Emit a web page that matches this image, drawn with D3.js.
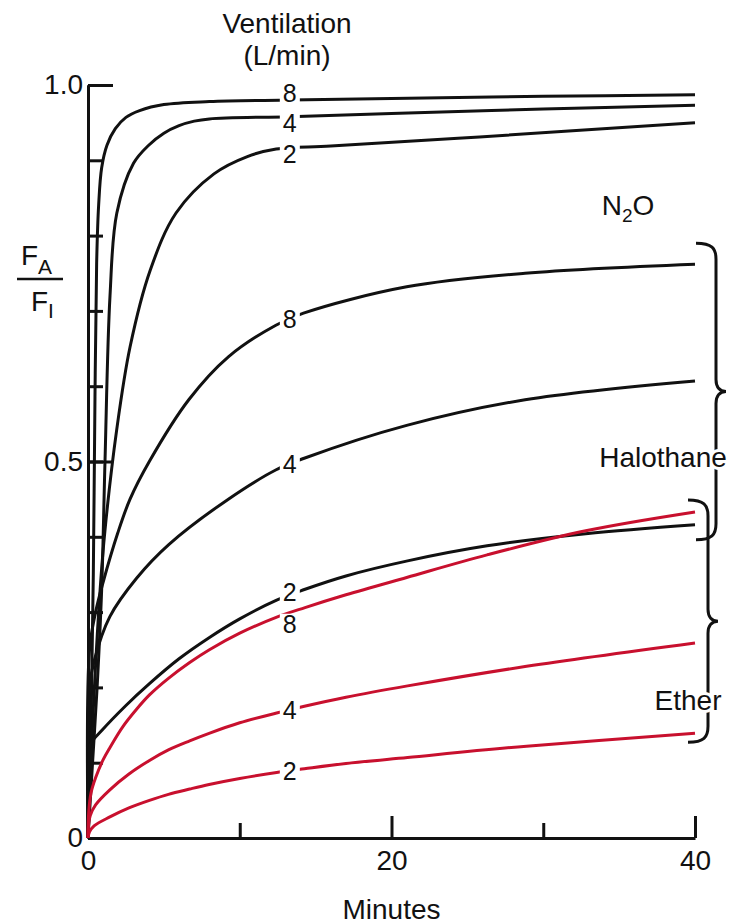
<!DOCTYPE html>
<html>
<head>
<meta charset="utf-8">
<script src="https://cdn.jsdelivr.net/npm/d3@7"></script>
<style>
  body { margin: 0; background: #fff; }
  svg text { font-family: "Liberation Sans", Arial, Helvetica, sans-serif; fill: #111; }
  .axis path, .axis line { stroke: #111; stroke-width: 3; }
  .axis text { font-size: 28px; }
</style>
</head>
<body>
<div id="vis"></div>
<script>
// alveolar / inspired concentration vs minutes, for three ventilations

var ventilations = [8, 4, 2];
var agents = ["N2O", "Halothane", "Ether"];

// [minutes, FA/FI]
var n2o8 = [[0,0],[0.2,0.15],[0.35,0.35],[0.46,0.586],[0.57,0.764],[0.7,0.84],[0.9,0.89],[1.25,0.92],[1.8,0.942],[2.5,0.957],[3.4,0.966],[5,0.974],[8,0.978],[13.3,0.98],[20,0.982],[30,0.985],[40,0.987]];
var n2o4 = [[0,0],[0.3,0.1],[0.6,0.2],[0.9,0.33],[1.12,0.5],[1.45,0.72],[1.9,0.83],[3,0.896],[4,0.92],[5,0.936],[6,0.946],[7,0.952],[8,0.955],[13.3,0.958],[20,0.962],[30,0.968],[40,0.973]];
var n2o2 = [[0,0],[0.3,0.15],[0.8,0.33],[1.12,0.409],[1.89,0.542],[2.77,0.652],[4.1,0.754],[5.8,0.83],[8.3,0.882],[10.5,0.905],[12.4,0.915],[16,0.919],[25.8,0.931],[40,0.95]];

var halo8 = [[0,0],[0.1,0.25],[0.5,0.3],[1,0.34],[1.96,0.405],[2.77,0.45],[4.04,0.5],[6.64,0.582],[9.25,0.639],[12.38,0.681],[14.2,0.697],[21,0.732],[28.8,0.75],[40,0.762]];
var halo4 = [[0,0],[0.1,0.2],[0.4,0.235],[1.44,0.294],[3.2,0.345],[5.34,0.39],[9.25,0.45],[12.4,0.489],[14.2,0.504],[21,0.548],[28.8,0.582],[40,0.607]];
var halo2 = [[0,0],[0.04,0.1],[0.15,0.124],[0.92,0.143],[2.5,0.176],[4.05,0.205],[6,0.238],[7.98,0.266],[10,0.291],[12.43,0.316],[14.26,0.33],[17,0.348],[21.06,0.368],[26.3,0.388],[32.8,0.404],[40,0.416]];

var ether8 = [[0,0],[0.05,0.035],[0.2,0.06],[0.5,0.08],[1,0.104],[1.44,0.12],[2.3,0.148],[3.2,0.171],[4.05,0.19],[5.3,0.212],[6.7,0.233],[8,0.25],[10,0.272],[12.4,0.293],[14.3,0.306],[17,0.323],[21,0.346],[26.3,0.376],[32.8,0.408],[40,0.433]];
var ether4 = [[0,0],[0.05,0.02],[0.15,0.03],[0.5,0.044],[1.44,0.064],[2.7,0.085],[4.05,0.103],[5.3,0.117],[6.7,0.129],[7.98,0.139],[10,0.153],[12.43,0.166],[14.26,0.175],[17,0.187],[21.06,0.202],[28.9,0.228],[40,0.259]];
var ether2 = [[0,0],[0.1,0.008],[0.4,0.016],[1.44,0.028],[2.7,0.04],[4.05,0.05],[5.3,0.058],[6.7,0.065],[7.98,0.071],[10,0.079],[12.43,0.087],[14.26,0.092],[17,0.099],[21.06,0.107],[28.9,0.122],[40,0.139]];

var curvesByAgent = [[n2o8, n2o4, n2o2], [halo8, halo4, halo2], [ether8, ether4, ether2]];

var yMinorTicks = d3.range(0, 10).map(function(i) { return i / 10; });
var yMajorTicks = [0, 0.5, 1.0];
var xMinorTicks = [10, 30];
var xMajorTicks = [0, 20, 40];
var labelMinute = 13.3;

var width = 740, height = 924;
var agentColor = { "N2O": "#111", "Halothane": "#111", "Ether": "#c8102e" };
// small vertical shifts so the numbers sit like the original
var labelShift = [[-7, 6, 6], [0, 0, -3], [11, 0, 0]];

var svg = d3.select("#vis").append("svg")
    .attr("width", width)
    .attr("height", height);

var x = d3.scaleLinear().domain([0, 40]).range([88, 695]),
    y = d3.scaleLinear().domain([0, 1]).range([838, 85]);

// y axis: inner ticks, labels outside
svg.append("g").attr("class", "axis")
    .attr("transform", "translate(" + x(0) + ",0)")
    .call(d3.axisRight(y).tickValues(yMinorTicks).tickSize(15).tickSizeOuter(0).tickFormat(""));
svg.append("g").attr("class", "axis")
    .attr("transform", "translate(" + x(0) + ",0)")
    .call(d3.axisRight(y).tickValues(yMajorTicks.slice(1)).tickSize(25).tickSizeOuter(0).tickFormat(""));
svg.append("g").attr("class", "axis")
    .attr("transform", "translate(" + x(0) + ",0)")
    .call(d3.axisLeft(y).tickValues(yMajorTicks).tickSize(0).tickPadding(5)
      .tickFormat(function(d) { return d === 0 ? "0" : d3.format(".1f")(d); }))
    .call(function(g) { g.select(".domain").remove(); });

// x axis: ticks point up
svg.append("g").attr("class", "axis")
    .attr("transform", "translate(0," + y(0) + ")")
    .call(d3.axisTop(x).tickValues(xMinorTicks).tickSize(15).tickSizeOuter(0).tickFormat(""));
svg.append("g").attr("class", "axis")
    .attr("transform", "translate(0," + y(0) + ")")
    .call(d3.axisTop(x).tickValues(xMajorTicks.slice(1)).tickSize(22).tickSizeOuter(0).tickFormat(""))
    .call(function(g) { g.select(".domain").remove(); });
svg.append("g").attr("class", "axis")
    .attr("transform", "translate(0," + y(0) + ")")
    .call(d3.axisBottom(x).tickValues(xMajorTicks).tickSize(0).tickPadding(12))
    .call(function(g) { g.select(".domain").remove(); });

var line = d3.line()
    .x(function(d) { return x(d[0]); })
    .y(function(d) { return y(d[1]); })
    .curve(d3.curveCatmullRom.alpha(0.5));

function valueAt(data, t) {
  var i = d3.bisector(function(d) { return d[0]; }).left(data, t);
  var a = data[i - 1], b = data[i];
  return a[1] + (b[1] - a[1]) * (t - a[0]) / (b[0] - a[0]);
}

agents.forEach(function(agent, ai) {
  curvesByAgent[ai].forEach(function(data) {
    svg.append("path")
      .datum(data)
      .attr("d", line)
      .attr("fill", "none")
      .attr("stroke", agentColor[agent])
      .attr("stroke-width", 3);
  });
});

// ventilation numbers sit on the curves, cutting a gap in them
agents.forEach(function(agent, ai) {
  curvesByAgent[ai].forEach(function(data, vi) {
    var cx = x(labelMinute), cy = y(valueAt(data, labelMinute)) + labelShift[ai][vi];
    svg.append("rect")
      .attr("x", cx - 10).attr("y", cy - 10)
      .attr("width", 20).attr("height", 20)
      .attr("fill", "#fff");
    svg.append("text")
      .attr("x", cx).attr("y", cy)
      .attr("dy", "0.36em")
      .attr("text-anchor", "middle")
      .attr("font-size", "25px")
      .text(ventilations[vi]);
  });
});

// braces grouping halothane and ether
function bracePath(bx, y0, y1) {
  var ym = (y0 + y1) / 2;
  return "M" + (bx - 20) + "," + y0 +
    " C" + (bx - 4) + "," + y0 + " " + bx + "," + (y0 + 5) + " " + bx + "," + (y0 + 16) +
    " L" + bx + "," + (ym - 12) +
    " C" + bx + "," + (ym - 4) + " " + (bx + 4) + "," + ym + " " + (bx + 10) + "," + ym +
    " C" + (bx + 4) + "," + ym + " " + bx + "," + (ym + 4) + " " + bx + "," + (ym + 12) +
    " L" + bx + "," + (y1 - 16) +
    " C" + bx + "," + (y1 - 5) + " " + (bx - 4) + "," + y1 + " " + (bx - 20) + "," + y1;
}

function groupEnds(ai) {
  return curvesByAgent[ai].map(function(c) { return c[c.length - 1][1]; });
}

var haloEnds = groupEnds(1), etherEnds = groupEnds(2);
svg.append("path")
  .attr("d", bracePath(716, y(d3.max(haloEnds)) - 21, y(d3.min(haloEnds)) + 15))
  .attr("fill", "none").attr("stroke", "#111").attr("stroke-width", 3);
svg.append("path")
  .attr("d", bracePath(708, y(d3.max(etherEnds)) - 12, y(d3.min(etherEnds)) + 9))
  .attr("fill", "none").attr("stroke", "#111").attr("stroke-width", 3);

// agent names
var n2oText = svg.append("text")
  .attr("x", 628).attr("y", 215)
  .attr("text-anchor", "middle")
  .attr("font-size", "28px");
n2oText.append("tspan").text("N");
n2oText.append("tspan").attr("font-size", "19px").attr("dy", 7).text("2");
n2oText.append("tspan").attr("dy", -7).text("O");

[["Halothane", 663, 467], ["Ether", 688, 710]].forEach(function(a) {
  svg.append("text")
    .attr("x", a[1]).attr("y", a[2])
    .attr("text-anchor", "middle")
    .attr("font-size", "28px")
    .attr("stroke", "#fff").attr("stroke-width", 6)
    .attr("paint-order", "stroke")
    .text(a[0]);
});

// titles
svg.append("text").attr("x", 287).attr("y", 33)
  .attr("text-anchor", "middle").attr("font-size", "28px").text("Ventilation");
svg.append("text").attr("x", 287).attr("y", 65)
  .attr("text-anchor", "middle").attr("font-size", "28px").text("(L/min)");
svg.append("text").attr("x", x(20)).attr("y", 919)
  .attr("text-anchor", "middle").attr("font-size", "28px").text("Minutes");

// FA / FI fraction
var frac = svg.append("g");
var fa = frac.append("text").attr("x", 21).attr("y", 265).attr("font-size", "28px");
fa.append("tspan").text("F");
fa.append("tspan").attr("font-size", "21px").attr("dy", 9).text("A");
frac.append("line").attr("x1", 17).attr("x2", 63).attr("y1", 279).attr("y2", 279)
  .attr("stroke", "#111").attr("stroke-width", 2.5);
var fi = frac.append("text").attr("x", 31).attr("y", 311).attr("font-size", "28px");
fi.append("tspan").text("F");
fi.append("tspan").attr("font-size", "21px").attr("dy", 7).text("I");
</script>
</body>
</html>
